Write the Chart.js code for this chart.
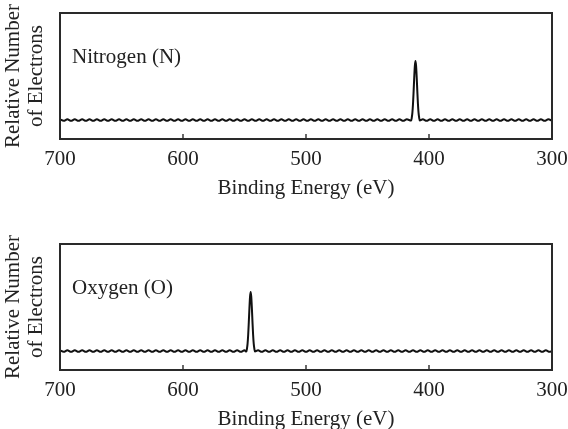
<!DOCTYPE html>
<html><head><meta charset="utf-8">
<script src="https://cdn.jsdelivr.net/npm/chart.js@4"></script>
<style>
html,body{margin:0;padding:0;background:#fff;width:568px;height:429px;overflow:hidden;}
.box{position:absolute;left:0;width:568px;height:199px;}
#b1{top:0}
#b2{top:231px}
</style>
</head><body>
<div class="box" id="b1"><canvas id="c1"></canvas></div>
<div class="box" id="b2"><canvas id="c2"></canvas></div>
<script>
const tickValues = [700, 600, 500, 400, 300];
const panelLabels = ['Nitrogen (N)', 'Oxygen (O)'];
const xTitle = 'Binding Energy (eV)';
const yTitle = ['Relative Number', 'of Electrons'];

const energyN = [
700,697,694,691,688,685,682,679,676,673,670,667,664,661,658,655,652,649,646,643,
640,637,634,631,628,625,622,619,616,613,610,607,604,601,598,595,592,589,586,583,
580,577,574,571,568,565,562,559,556,553,550,547,544,541,538,535,532,529,526,523,
520,517,514,511,508,505,502,499,496,493,490,487,484,481,478,475,472,469,466,463,
460,457,454,451,448,445,442,439,436,433,430,427,424,421,418,
414.5,414,413.5,413,412.5,412,411.5,411,410.5,410,409.5,409,408.5,408,407.5,
405,402,399,396,393,390,387,384,381,378,375,372,369,366,363,360,357,354,351,348,
345,342,339,336,333,330,327,324,321,318,315,312,309,306,303,300];
const countsN = [
15.6,14.4,15.6,14.4,15.6,14.4,15.6,14.4,15.6,14.4,15.6,14.4,15.6,14.4,15.6,14.4,15.6,14.4,15.6,14.4,
15.6,14.4,15.6,14.4,15.6,14.4,15.6,14.4,15.6,14.4,15.6,14.4,15.6,14.4,15.6,14.4,15.6,14.4,15.6,14.4,
15.6,14.4,15.6,14.4,15.6,14.4,15.6,14.4,15.6,14.4,15.6,14.4,15.6,14.4,15.6,14.4,15.6,14.4,15.6,14.4,
15.6,14.4,15.6,14.4,15.6,14.4,15.6,14.4,15.6,14.4,15.6,14.4,15.6,14.4,15.6,14.4,15.6,14.4,15.6,14.4,
15.6,14.4,15.6,14.4,15.6,14.4,15.6,14.4,15.6,14.4,15.6,14.4,15.6,14.4,15.6,
14.6,17,21,28,38,49,58,62,58,49,38,28,21,17,14.6,
15.6,14.4,15.6,14.4,15.6,14.4,15.6,14.4,15.6,14.4,15.6,14.4,15.6,14.4,15.6,14.4,15.6,14.4,15.6,14.4,
15.6,14.4,15.6,14.4,15.6,14.4,15.6,14.4,15.6,14.4,15.6,14.4,15.6,14.4,15.6,14.4];

const energyO = [
700,697,694,691,688,685,682,679,676,673,670,667,664,661,658,655,652,649,646,643,
640,637,634,631,628,625,622,619,616,613,610,607,604,601,598,595,592,589,586,583,
580,577,574,571,568,565,562,559,556,553,550,
548.5,548,547.5,547,546.5,546,545.5,545,544.5,544,543.5,543,542.5,542,541.5,
539,536,533,530,527,524,521,518,515,512,509,506,503,500,497,494,491,488,485,482,
479,476,473,470,467,464,461,458,455,452,449,446,443,440,437,434,431,428,425,422,
419,416,413,410,407,404,401,398,395,392,389,386,383,380,377,374,371,368,365,362,
359,356,353,350,347,344,341,338,335,332,329,326,323,320,317,314,311,308,305,302,300];
const countsO = [
15.6,14.4,15.6,14.4,15.6,14.4,15.6,14.4,15.6,14.4,15.6,14.4,15.6,14.4,15.6,14.4,15.6,14.4,15.6,14.4,
15.6,14.4,15.6,14.4,15.6,14.4,15.6,14.4,15.6,14.4,15.6,14.4,15.6,14.4,15.6,14.4,15.6,14.4,15.6,14.4,
15.6,14.4,15.6,14.4,15.6,14.4,15.6,14.4,15.6,14.4,15.6,
14.6,17,21,28,38,49,58,62,58,49,38,28,21,17,14.6,
15.6,14.4,15.6,14.4,15.6,14.4,15.6,14.4,15.6,14.4,15.6,14.4,15.6,14.4,15.6,14.4,15.6,14.4,15.6,14.4,
15.6,14.4,15.6,14.4,15.6,14.4,15.6,14.4,15.6,14.4,15.6,14.4,15.6,14.4,15.6,14.4,15.6,14.4,15.6,14.4,
15.6,14.4,15.6,14.4,15.6,14.4,15.6,14.4,15.6,14.4,15.6,14.4,15.6,14.4,15.6,14.4,15.6,14.4,15.6,14.4,
15.6,14.4,15.6,14.4,15.6,14.4,15.6,14.4,15.6,14.4,15.6,14.4,15.6,14.4,15.6,14.4,15.6,14.4,15.6,14.4,15.0];

const FONT = '"Liberation Serif", "Times New Roman", serif';
const INK = '#222';

const framePlugin = {
  id: 'frame',
  afterDatasetsDraw(chart, args, opts) {
    const {ctx, chartArea} = chart;
    const {left, top, right, bottom} = chartArea;
    ctx.save();
    ctx.strokeStyle = '#2a2a2a';
    ctx.lineWidth = 2;
    ctx.strokeRect(left, top, right - left, bottom - top);
    const xs = chart.scales.x;
    ctx.lineWidth = 1.4;
    xs.ticks.forEach(t => {
      const px = xs.getPixelForValue(t.value);
      ctx.beginPath();
      ctx.moveTo(px, bottom);
      ctx.lineTo(px, bottom - 5);
      ctx.stroke();
    });
    ctx.fillStyle = INK;
    ctx.font = '21px ' + FONT;
    ctx.textBaseline = 'middle';
    ctx.textAlign = 'left';
    ctx.fillText(opts.text, left + 12, top + 44);
    ctx.restore();
  }
};

function makeChart(id, energies, counts, label) {
  const pts = energies.map((e, i) => ({x: e, y: counts[i]}));
  return new Chart(document.getElementById(id), {
    type: 'line',
    data: { datasets: [{
      data: pts,
      borderColor: '#111',
      borderWidth: 2,
      pointRadius: 0,
      cubicInterpolationMode: 'monotone',
      fill: false
    }]},
    options: {
      responsive: true,
      maintainAspectRatio: false,
      animation: false,
      events: [],
      layout: { padding: { left: 0, right: 16, top: 13, bottom: 0 } },
      plugins: {
        legend: { display: false },
        tooltip: { enabled: false },
        frame: { text: label }
      },
      scales: {
        x: {
          type: 'linear',
          min: 300, max: 700,
          reverse: true,
          afterBuildTicks: s => { s.ticks = tickValues.map(v => ({value: v})); },
          afterFit: s => { s.height = 60; s.paddingLeft = 0; s.paddingRight = 0; },
          grid: { display: false },
          border: { display: false },
          ticks: { color: INK, font: { family: FONT, size: 21 }, padding: 0, maxRotation: 0 },
          title: { display: true, text: xTitle, color: INK,
                   font: { family: FONT, size: 21, lineHeight: 1.0 }, padding: { top: 0, bottom: 0 } }
        },
        y: {
          min: 0, max: 100,
          afterFit: s => { s.width = 60; },
          grid: { display: false },
          border: { display: false },
          ticks: { display: false },
          title: { display: true, text: yTitle, color: INK,
                   font: { family: FONT, size: 21, lineHeight: 1.1 }, padding: { top: 2, bottom: 0 } }
        }
      }
    },
    plugins: [framePlugin]
  });
}

makeChart('c1', energyN, countsN, panelLabels[0]);
makeChart('c2', energyO, countsO, panelLabels[1]);
</script>
</body></html>
